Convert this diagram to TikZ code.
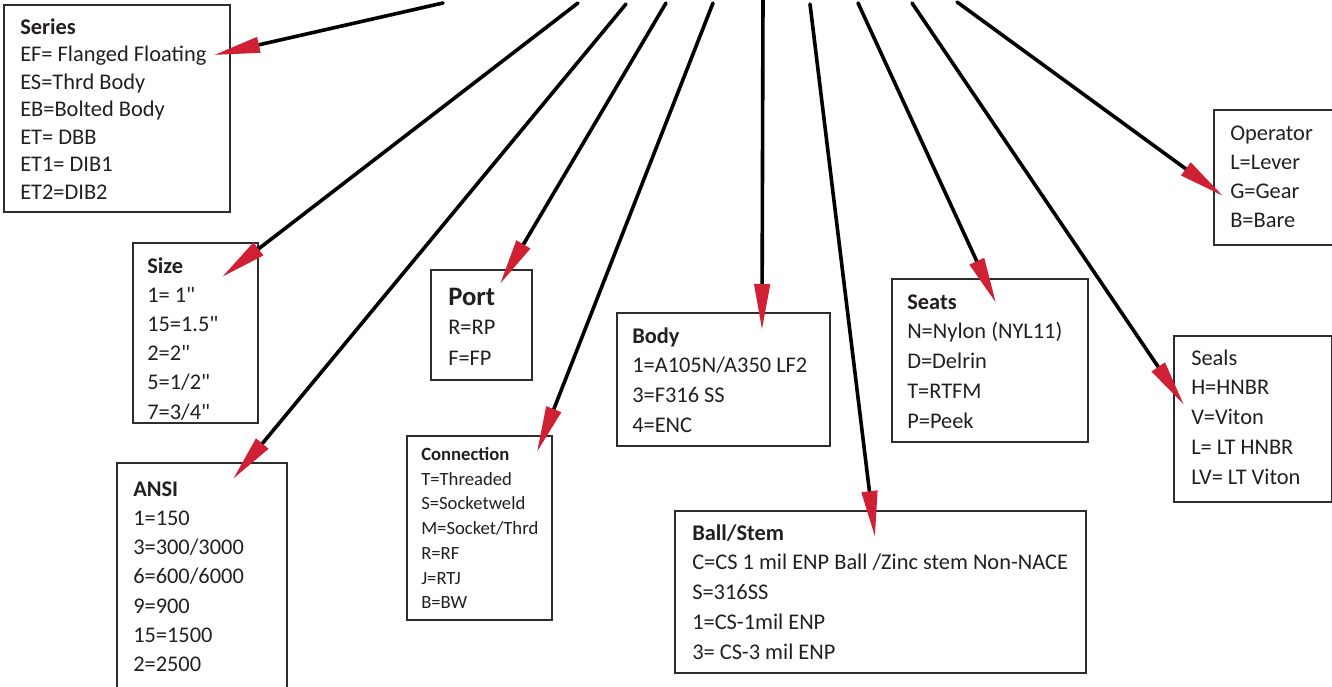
\documentclass[tikz,border=0pt]{standalone}
\usepackage{fontspec}
\setmainfont{Carlito}[Ligatures=TeXOff]
\usetikzlibrary{arrows.meta,fit}
\definecolor{arrowred}{RGB}{208,32,52}
\definecolor{boxgray}{RGB}{45,45,45}
\definecolor{txt}{RGB}{35,31,32}
\tikzset{
  box/.style={draw=boxgray, line width=1.1pt, inner sep=0pt},
  entry/.style={anchor=base west, inner sep=0pt, text=txt, font=\fontsize{16.8}{20}\selectfont},
  small/.style={entry, font=\fontsize{14}{17}\selectfont},
  lead/.style={line width=2.7pt, line cap=round, draw=black,
    -{Triangle[length=34.5pt,width=11.5pt,color=arrowred]}},
}
\newcommand\entrylines[6]{%
  \foreach \t [count=\i from 0] in {#6} {\node[#1] (#2\i) at ({#3},{#4+\i*#5}) {\t};}}
\begin{document}
\begin{tikzpicture}[x=0.75pt,y=-0.75pt]
\clip (0,0) rectangle (1332,686);
\path[use as bounding box] (0,0) rectangle (1332,686);

% boxes
\node[box, fit={(4,5) (230,212)}] (series) {};
\node[box, fit={(133,243) (258,423)}] (size) {};
\node[box, fit={(117,463) (287,700)}] (ansi) {};
\node[box, fit={(431,270) (532,380)}] (port) {};
\node[box, fit={(407,436) (552,620)}] (conn) {};
\node[box, fit={(617,313) (830,446)}] (body) {};
\node[box, fit={(675,511) (1086,673)}] (ball) {};
\node[box, fit={(892,279) (1088,442)}] (seats) {};
\node[box, fit={(1214,110) (1345,245)}] (oper) {};
\node[box, fit={(1174,336) (1332,502)}] (seals) {};

% texts
\entrylines{entry}{ser}{20}{34}{27.5}{\textbf{Series},EF= Flanged Floating,ES=Thrd Body,EB=Bolted Body,ET= DBB,ET1= DIB1,ET2=DIB2}
\entrylines{entry}{siz}{147}{273}{29.2}{\textbf{Size},1= 1",15=1.5",2=2",5=1/2",7=3/4"}
\entrylines{entry}{ans}{133}{496}{29.3}{\textbf{ANSI},1=150,3=300/3000,6=600/6000,9=900,15=1500,2=2500}
\node[entry, font=\fontsize{20}{24}\selectfont\bfseries] (porthead) at (448,305) {Port};
\entrylines{entry}{prt}{448}{334}{31}{R=RP,F=FP}
\entrylines{small}{con}{421}{460.5}{24.7}{\textbf{Connection},T=Threaded,S=Socketweld,M=Socket/Thrd,R=RF,J=RTJ,B=BW}
\entrylines{entry}{bod}{632}{343}{29.7}{\textbf{Body},1=A105N/A350 LF2,3=F316 SS,4=ENC}
\entrylines{entry}{bal}{692}{540}{29.75}{\textbf{Ball/Stem},C=CS 1 mil ENP Ball /Zinc stem Non-NACE,S=316SS,1=CS-1mil ENP,3= CS-3 mil ENP}
\entrylines{entry}{sea}{907}{309}{29.75}{\textbf{Seats},N=Nylon (NYL11),D=Delrin,T=RTFM,P=Peek}
\entrylines{entry}{ope}{1230}{140}{29.3}{Operator,L=Lever,G=Gear,B=Bare}
\entrylines{entry}{sel}{1191}{365}{29.75}{Seals,H=HNBR,V=Viton,L= LT HNBR,LV= LT Viton}

% connector end points
\coordinate (s1) at (443,3);   \coordinate (t1) at (214,55);
\coordinate (s2) at (578,3);   \coordinate (t2) at (222,277);
\coordinate (s3) at (626,4);   \coordinate (t3) at (233,479);
\coordinate (s4) at (666,3);   \coordinate (t4) at (500,284);
\coordinate (s5) at (713,3);   \coordinate (t5) at (537,452);
\coordinate (s6) at (763,-2);  \coordinate (t6) at (762,330);
\coordinate (s7) at (810,4);   \coordinate (t7) at (875,537);
\coordinate (s8) at (858,3);   \coordinate (t8) at (996,303);
\coordinate (s9) at (912,3);   \coordinate (t9) at (1184,405);
\coordinate (s10) at (957,2);  \coordinate (t10) at (1223,196);

\foreach \k in {1,...,10} {\draw[lead] (s\k) -- (t\k);}
\end{tikzpicture}
\end{document}
